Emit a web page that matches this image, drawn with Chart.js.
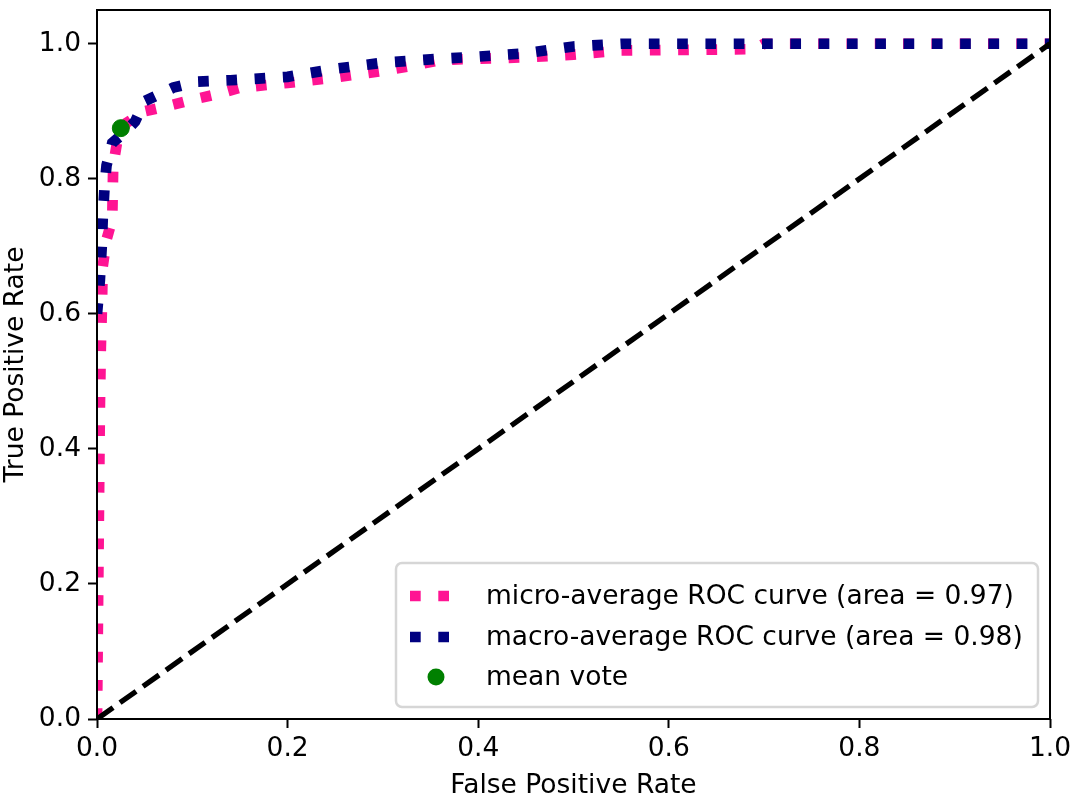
<!DOCTYPE html>
<html>
<head>
<meta charset="utf-8">
<script src="https://cdn.jsdelivr.net/npm/chart.js@4.4.1/dist/chart.umd.min.js"></script>
<style>
  html, body { margin: 0; padding: 0; background: #fff; }
  #wrap { width: 1070px; height: 796px; }
</style>
</head>
<body>
<div id="wrap"><canvas id="rocChart" width="1070" height="796"></canvas></div>
<script>
// ROC curve values
var microFpr = [0, 0.003, 0.004, 0.005, 0.006, 0.01, 0.016, 0.017, 0.022, 0.031, 0.05, 0.075, 0.1, 0.125, 0.15, 0.2, 0.25, 0.3, 0.33, 0.36, 0.45, 0.5, 0.55, 0.69, 0.7, 1.0];
var microTpr = [0, 0.46, 0.55, 0.6, 0.67, 0.71, 0.74, 0.82, 0.862, 0.883, 0.9, 0.908, 0.917, 0.925, 0.935, 0.942, 0.95, 0.96, 0.967, 0.976, 0.98, 0.984, 0.99, 0.992, 1.0, 1.0];

var macroFpr = [0, 0.003, 0.005, 0.006, 0.008, 0.01, 0.016, 0.03, 0.04, 0.05, 0.08, 0.106, 0.14, 0.2, 0.25, 0.3, 0.35, 0.4, 0.45, 0.5, 0.55, 1.0];
var macroTpr = [0.6, 0.65, 0.7, 0.74, 0.79, 0.82, 0.853, 0.87, 0.885, 0.915, 0.935, 0.944, 0.946, 0.951, 0.963, 0.972, 0.977, 0.981, 0.986, 0.996, 1.0, 1.0];

var chanceX = [0, 1];
var chanceY = [0, 1];

var meanVoteX = [0.025];
var meanVoteY = [0.875];

var tickValues = [0, 0.2, 0.4, 0.6, 0.8, 1.0];

var labels = [
    'micro-average ROC curve (area = 0.97)',
    'macro-average ROC curve (area = 0.98)',
    'mean vote'
];

function pairs(xs, ys) {
    return xs.map(function (x, i) { return { x: x, y: ys[i] }; });
}

var FONT = '"DejaVu Sans", "Liberation Sans", sans-serif';

// axes frame + legend box, drawn like matplotlib
var framePlugin = {
    id: 'frame',
    afterDatasetsDraw: function (chart) {
        var a = chart.chartArea, c = chart.ctx;
        c.save();
        c.strokeStyle = '#000';
        c.lineWidth = 2;
        c.strokeRect(a.left, a.top, a.right - a.left, a.bottom - a.top);

        // legend
        var bx = 396, by = 563, bw = 642, bh = 144, r = 6;
        c.beginPath();
        c.moveTo(bx + r, by);
        c.arcTo(bx + bw, by, bx + bw, by + bh, r);
        c.arcTo(bx + bw, by + bh, bx, by + bh, r);
        c.arcTo(bx, by + bh, bx, by, r);
        c.arcTo(bx, by, bx + bw, by, r);
        c.closePath();
        c.fillStyle = 'rgba(255,255,255,0.8)';
        c.fill();
        c.strokeStyle = 'rgba(204,204,204,0.8)';
        c.lineWidth = 2.5;
        c.stroke();

        var rows = [596, 637, 677];
        var colors = ['deeppink', 'navy'];
        for (var i = 0; i < 2; i++) {
            c.beginPath();
            c.setLineDash([10.7, 17.6]);
            c.lineCap = 'butt';
            c.lineWidth = 10.7;
            c.strokeStyle = colors[i];
            c.moveTo(410, rows[i]);
            c.lineTo(463, rows[i]);
            c.stroke();
        }
        c.setLineDash([]);
        c.beginPath();
        c.arc(436, rows[2], 8.5, 0, Math.PI * 2);
        c.fillStyle = 'green';
        c.fill();

        c.fillStyle = '#000';
        c.font = '26.5px ' + FONT;
        c.textBaseline = 'middle';
        c.textAlign = 'left';
        for (var j = 0; j < labels.length; j++) {
            c.fillText(labels[j], 486, rows[j] + 1);
        }
        c.restore();
    }
};

var ctx = document.getElementById('rocChart').getContext('2d');
var rocChart = new Chart(ctx, {
    type: 'scatter',
    data: {
        datasets: [{
            label: labels[2],
            data: pairs(meanVoteX, meanVoteY),
            backgroundColor: 'green',
            borderColor: 'green',
            pointRadius: 8.5,
            order: 0
        }, {
            label: 'chance',
            data: pairs(chanceX, chanceY),
            showLine: true,
            borderColor: '#000',
            borderWidth: 5.3,
            borderDash: [19.7, 8.5],
            pointRadius: 0,
            clip: 0,
            order: 1
        }, {
            label: labels[1],
            data: pairs(macroFpr, macroTpr),
            showLine: true,
            borderColor: 'navy',
            borderWidth: 10.7,
            borderDash: [10.7, 17.6],
            borderCapStyle: 'butt',
            pointRadius: 0,
            clip: 0,
            order: 2
        }, {
            label: labels[0],
            data: pairs(microFpr, microTpr),
            showLine: true,
            borderColor: 'deeppink',
            borderWidth: 10.7,
            borderDash: [10.7, 17.6],
            borderCapStyle: 'butt',
            pointRadius: 0,
            clip: 0,
            order: 3
        }]
    },
    options: {
        responsive: false,
        animation: false,
        layout: { padding: { top: 10, right: 20, left: 0, bottom: 0 } },
        plugins: {
            legend: { display: false },
            tooltip: { enabled: false }
        },
        scales: {
            x: {
                type: 'linear',
                min: 0,
                max: 1,
                afterBuildTicks: function (s) { s.ticks = tickValues.map(function (v) { return { value: v }; }); },
                afterFit: function (s) { s.height = 77; s.paddingLeft = 0; s.paddingRight = 0; },
                grid: { display: true, drawOnChartArea: false, drawTicks: true, tickLength: 9, tickWidth: 2, tickColor: '#000' },
                border: { display: false },
                ticks: {
                    color: '#000',
                    padding: 5,
                    maxRotation: 0,
                    font: { family: FONT, size: 26.5 },
                    callback: function (v) { return Number(v).toFixed(1); }
                },
                title: {
                    display: true,
                    text: 'False Positive Rate',
                    color: '#000',
                    padding: { top: 0, bottom: -6 },
                    font: { family: FONT, size: 26.5 }
                }
            },
            y: {
                type: 'linear',
                min: 0,
                max: 1.05,
                afterBuildTicks: function (s) { s.ticks = tickValues.map(function (v) { return { value: v }; }); },
                afterFit: function (s) { s.width = 97; s.paddingTop = 0; s.paddingBottom = 0; },
                grid: { display: true, drawOnChartArea: false, drawTicks: true, tickLength: 9, tickWidth: 2, tickColor: '#000' },
                border: { display: false },
                ticks: {
                    color: '#000',
                    padding: 7,
                    font: { family: FONT, size: 26.5 },
                    callback: function (v) { return Number(v).toFixed(1); }
                },
                title: {
                    display: true,
                    text: 'True Positive Rate',
                    color: '#000',
                    padding: { top: 0, bottom: 0 },
                    font: { family: FONT, size: 26.5 }
                }
            }
        }
    },
    plugins: [framePlugin]
});
</script>
</body>
</html>
